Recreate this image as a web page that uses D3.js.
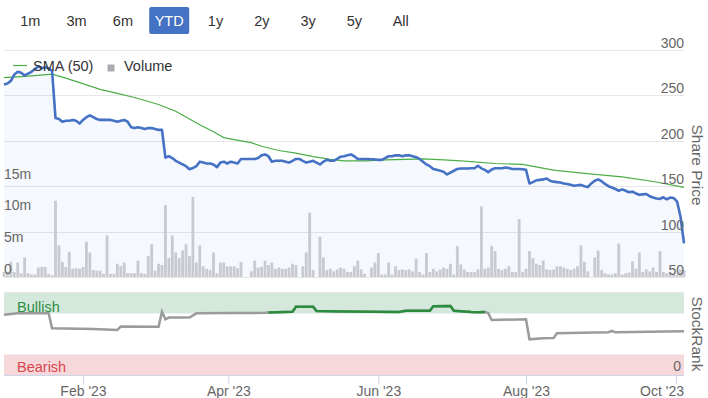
<!DOCTYPE html>
<html><head><meta charset="utf-8">
<script src="https://cdn.jsdelivr.net/npm/d3@7"></script>
<style>
body{margin:0;background:#fff}
svg{display:block;font-family:"Liberation Sans",Arial,Helvetica,sans-serif}
</style>
</head><body>
<svg id="chart" width="708" height="398"></svg>
<script>
// ---------------- DATA ----------------
const rangeButtons = ["1m","3m","6m","YTD","1y","2y","3y","5y","All"];
const selectedRange = "YTD";
const firstDay = "2022-12-30", lastDay = "2023-10-04";   // weekday trading calendar

// daily closing share price (one value per weekday from firstDay to lastDay)
const price = [
262,263,266,273,276,275,272,274,276,279,282,280,281,280,277,225,224,221,222,222,
223,222,219,223,226,228,226,224,223,223,223,223,222,221,222,223,221,215,214,215,
214,213,214,214,213,212,212,181.5,183,181,178,176,174,172,168.6,170,172,177,176,175,
175,174,171,176,177,175,177,176,175,180,180,180,180,180,181,184,185,183,177,178,
178,178,177,176,178,180,180,178,176,177,178,176,174,177,179,178,178,180,182.5,183,
184,185,183,180,180,180,180,179.6,179.5,179,179,181,183,183,184,184,183,184,184,183,
182,180,177,174,172,169,168,167,166,163,165,167,169,169.5,169.5,169.5,169.7,169.7,172.5,169.7,
168,165.5,168.5,169.7,169.7,169.7,170.5,170,169,169,169,168.6,168,153,154.5,156.5,157,157.5,158.5,156,
155,154.5,154,153,152.5,151.5,150.5,151,151.5,150,149,153,156,157.5,155.5,152.5,150,148.5,147,145,
146.5,145,143.3,144,142,140.5,141,141.4,139,137.5,136.5,136,137.8,135.6,137.5,137,133,116,87
];

// daily volume, millions of shares
const volume = [
0.8,0.8,2.4,0.8,2.3,0.6,3.1,0.6,0.4,0.4,1.5,1.6,1.6,0.5,0.3,12.1,5.0,2.4,1.6,4.0,
1.3,1.4,1.3,1.6,5.6,3.9,1.1,1.0,1.0,0.5,6.6,0.5,0.5,2.1,1.7,2.3,0.6,0.6,0.6,2.6,
0.6,0.5,3.3,5.2,1.0,2.1,1.9,11.4,3.0,6.6,3.9,3.0,4.2,5.2,3.3,12.7,2.3,5.0,1.7,1.3,
1.1,3.9,0.6,2.3,2.3,1.7,1.7,1.7,1.4,2.4,0,0,0.9,2.6,1.5,1.6,2.6,1.9,2.3,1.3,
1.5,1.3,1.3,1.5,2.1,1.9,0,1.7,3.9,10.2,1.1,0,6.4,3.1,1.1,1.3,0.9,1.2,1.5,1.3,
0.8,0.8,1.7,2.6,1.2,0.5,0,1.5,2.3,3.8,0.4,0.4,2.3,0.4,1.7,1.1,1.2,1.1,1.2,0.9,
2.9,0.8,0.4,3.8,0.8,1.3,0.9,1.2,1.5,1.3,2.1,0.4,4.9,2.0,1.2,0.8,0.8,0.8,1.2,11.2,
1.3,1.5,4.9,4.1,1.3,1.1,1.3,1.7,0.8,0.8,9.2,0.8,1.3,4.1,3.0,2.1,1.9,2.6,1.2,1.1,
1.2,1.7,1.7,1.5,1.3,1.1,1.3,1.7,5.0,2.4,0.9,0,3.1,4.2,1.1,0.6,0.4,0.4,0.6,5.3,
0.4,0.6,0.7,2.5,1.3,3.9,0.8,1.2,0.9,1.5,0.8,4.1,0.8,0.6,0.8,0.6,0.4,1.2,1.1
];

// 50-day simple moving average
const smaDates = ["2022-12-30","2023-01-06","2023-01-12","2023-01-19","2023-01-25","2023-02-08","2023-02-15",
"2023-02-22","2023-03-03","2023-03-10","2023-03-21","2023-03-27","2023-03-30","2023-04-06","2023-04-11",
"2023-04-14","2023-04-21","2023-04-28","2023-05-05","2023-05-12","2023-05-18","2023-05-26","2023-06-05",
"2023-06-13","2023-06-20","2023-06-28","2023-07-05","2023-07-10","2023-07-19","2023-07-31","2023-08-11",
"2023-08-24","2023-09-08","2023-09-22","2023-10-04"];
const smaValues = [269.5,270.7,271.8,273.5,269,256.7,252.2,247.7,240,232.5,217.6,210,203.5,200,198,
194,189.3,186.4,182.6,179.6,177.9,178,179,179.6,180,178.9,178,177,175,174,167.8,164.2,160.3,154.6,148.8];

// StockRank
const rankDates = ["2022-12-30","2023-01-05","2023-01-18","2023-01-19","2023-02-06","2023-02-15","2023-02-16",
"2023-03-03","2023-03-06","2023-03-07","2023-03-08","2023-03-16","2023-03-20","2023-04-03","2023-04-17",
"2023-04-18","2023-04-27","2023-04-28","2023-05-05","2023-05-08","2023-05-18","2023-06-09","2023-06-13",
"2023-06-22","2023-06-23","2023-06-30","2023-07-03","2023-07-10","2023-07-12","2023-07-14","2023-07-17",
"2023-07-18","2023-08-01","2023-08-02","2023-08-08","2023-08-11","2023-08-14","2023-09-04","2023-09-05",
"2023-09-06","2023-10-04"];
const rankValues = [73.5,75.2,75.2,57,56,55,59,58.8,77.2,67.9,70,70,75.2,75.5,75.8,
76.2,77,83.3,83.3,78,77.3,76.8,78.4,78.4,83.8,84,78.4,76.8,76.5,76.8,75.5,
67,68,43.5,44.8,45,50.9,52.1,53.7,52,53.3];
const bullishFrom = 76;   // rank level drawn as bullish

const priceTicks = [50,100,150,200,250,300];
const volumeTicks = [0,5,10,15];
const volumeTickLabels = ["0","5m","10m","15m"];
const rankTicks = [0];
const monthTicks = ["2023-02-01","2023-04-01","2023-06-01","2023-08-01","2023-10-01"];
const monthTickLabels = ["Feb '23","Apr '23","Jun '23","Aug '23","Oct '23"];
const bandNames = ["Bullish","Bearish"];
const bandRanges = [[75,100],[0,25]];

// ---------------- CHART ----------------
const parse = d3.timeParse("%Y-%m-%d");
const svg = d3.select("#chart");
const FONT_COL = "#666666";

// trading calendar (weekdays)
const days = d3.timeDay.range(parse(firstDay), d3.timeDay.offset(parse(lastDay), 1))
  .filter(d => d.getDay() > 0 && d.getDay() < 6);
const N = Math.min(days.length, price.length, volume.length);
const left = 4, right = 684;
const idx = d3.scaleLinear().domain([0, N - 1]).range([left, right]);
// ordinal-like time axis: each trading day equally spaced
const x = d3.scaleTime().domain(days.slice(0, N)).range(days.slice(0, N).map((d, i) => idx(i)));

const yP = d3.scaleLinear().domain([50, 300]).range([277, 50]);
const yV = d3.scaleLinear().domain([0, 36]).range([277, 50]);
const yR = d3.scaleLinear().domain([0, 100]).range([375, 293]);

const daily = d3.range(N).map(i => ({d: days[i], p: price[i], v: volume[i]}));
const sma = smaDates.map((s, i) => ({d: parse(s), v: smaValues[i]}));
const rank = rankDates.map((s, i) => ({d: parse(s), v: rankValues[i]}));

// range selector buttons
const btn = svg.append("g");
rangeButtons.forEach((b, i) => {
  const cx = 30.3 + i * 46.3;
  if (b === selectedRange) {
    btn.append("rect").attr("x", cx - 20).attr("y", 7).attr("width", 40).attr("height", 27)
      .attr("rx", 2).attr("fill", "#4472c4");
  }
  btn.append("text").attr("x", cx).attr("y", 26).attr("text-anchor", "middle")
    .attr("font-size", 14.5).attr("fill", b === selectedRange ? "#ffffff" : "#333333").text(b);
});

// price gridlines
const grid = svg.append("g");
priceTicks.forEach(t => {
  grid.append("line").attr("x1", left).attr("x2", right)
    .attr("y1", Math.round(yP(t)) + 0.5).attr("y2", Math.round(yP(t)) + 0.5)
    .attr("stroke", "#e6e6e6").attr("stroke-width", 1);
});

// area under price
svg.append("path").datum(daily)
  .attr("d", d3.area().x(d => x(d.d)).y0(yP(50)).y1(d => yP(d.p)))
  .attr("fill", "#4472c4").attr("fill-opacity", 0.05);

// volume bars
const bw = (idx(1) - idx(0)) * 0.82;
svg.append("g").selectAll("rect").data(daily.filter(d => d.v > 0)).join("rect")
  .attr("x", d => x(d.d) - bw / 2).attr("width", bw)
  .attr("y", d => yV(d.v)).attr("height", d => yV(0) - yV(d.v))
  .attr("fill", "#c9cad1");

// SMA line
svg.append("path").datum(sma)
  .attr("d", d3.line().x(d => x(d.d)).y(d => yP(d.v)))
  .attr("fill", "none").attr("stroke", "#4cae45").attr("stroke-width", 1.2);

// price line
svg.append("path").datum(daily)
  .attr("d", d3.line().x(d => x(d.d)).y(d => yP(d.p)))
  .attr("fill", "none").attr("stroke", "#4572c4").attr("stroke-width", 2.6)
  .attr("stroke-linejoin", "round");

// price axis labels (right)
priceTicks.forEach(t => {
  svg.append("text").attr("x", right).attr("y", yP(t) - 2).attr("text-anchor", "end")
    .attr("font-size", 14).attr("fill", FONT_COL).text(t);
});
// volume axis labels (left)
volumeTicks.forEach((t, i) => {
  svg.append("text").attr("x", left).attr("y", yV(t) - 3.5)
    .attr("font-size", 14).attr("fill", FONT_COL).text(volumeTickLabels[i]);
});
svg.append("text").attr("transform", "translate(697,165) rotate(90)")
  .attr("text-anchor", "middle").attr("dominant-baseline", "central")
  .attr("font-size", 15.5).attr("fill", FONT_COL).text("Share Price");

// legend
const lg = svg.append("g");
lg.append("line").attr("x1", 13).attr("x2", 27).attr("y1", 65.5).attr("y2", 65.5)
  .attr("stroke", "#4cae45").attr("stroke-width", 1.2);
lg.append("text").attr("x", 33).attr("y", 71).attr("font-size", 14.5).attr("fill", "#333").text("SMA (50)");
lg.append("rect").attr("x", 107.5).attr("y", 64.5).attr("width", 7).attr("height", 7).attr("fill", "#aaabb0");
lg.append("text").attr("x", 124).attr("y", 71).attr("font-size", 14.5).attr("fill", "#333").text("Volume");

// ---- StockRank panel ----
svg.append("line").attr("x1", left).attr("x2", right).attr("y1", 292.5).attr("y2", 292.5)
  .attr("stroke", "#e6e6e6");
const bandFill = ["#d4e9dc", "#f6d8da"];
const bandText = ["#2f8e45", "#d9454f"];
bandRanges.forEach((r, i) => {
  svg.append("rect").attr("x", left).attr("width", right - left)
    .attr("y", yR(r[1])).attr("height", yR(r[0]) - yR(r[1])).attr("fill", bandFill[i]);
});
svg.append("text").attr("x", 17).attr("y", yR(bandRanges[0][0]) - 2).attr("font-size", 14.5)
  .attr("fill", bandText[0]).text(bandNames[0]);
svg.append("text").attr("x", 17).attr("y", yR(0) - 3).attr("font-size", 14.5)
  .attr("fill", bandText[1]).text(bandNames[1]);

const rankLine = d3.line().x(d => x(d.d)).y(d => yR(d.v));
svg.append("path").datum(rank).attr("d", rankLine)
  .attr("fill", "none").attr("stroke", "#9b9b9b").attr("stroke-width", 2.5);
svg.append("path").datum(rank).attr("d", rankLine.defined(d => d.v >= bullishFrom))
  .attr("fill", "none").attr("stroke", "#2a8c3c").attr("stroke-width", 2.5);

rankTicks.forEach(t => {
  svg.append("text").attr("x", right - 3).attr("y", yR(t) - 4.3).attr("text-anchor", "end")
    .attr("font-size", 14).attr("fill", FONT_COL).text(t);
});
svg.append("text").attr("transform", "translate(697,334) rotate(90)")
  .attr("text-anchor", "middle").attr("dominant-baseline", "central")
  .attr("font-size", 15.5).attr("fill", FONT_COL).text("StockRank");

// x axis
const xAxis = d3.axisBottom(x)
  .tickValues(monthTicks.map(parse))
  .tickFormat((d, i) => monthTickLabels[i])
  .tickSize(9).tickPadding(1.5).tickSizeOuter(0);
const gx = svg.append("g").attr("transform", "translate(0,375.5)").call(xAxis);
gx.select(".domain").attr("stroke", "#ccd6eb").attr("d", `M${left},0H${right}`);
gx.selectAll(".tick line").attr("stroke", "#ccd6eb");
gx.selectAll(".tick text").attr("font-size", 14).attr("fill", FONT_COL)
  .attr("font-family", "'Liberation Sans',Arial,sans-serif");
// keep labels inside the plot's right edge
gx.selectAll(".tick").each(function() {
  const t = d3.select(this);
  const tx = +t.attr("transform").match(/translate\(([-\d.]+)/)[1];
  const txt = t.select("text");
  const w = txt.node().getComputedTextLength();
  if (tx + w / 2 > right) txt.attr("text-anchor", "end").attr("x", right - tx);
});
</script>
</body></html>
